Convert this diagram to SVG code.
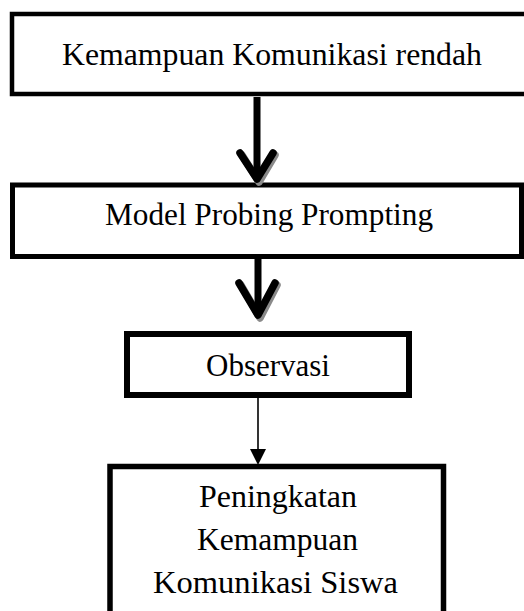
<svg xmlns="http://www.w3.org/2000/svg" width="524" height="611" viewBox="0 0 524 611">
  <defs>
    <style>
      .box { fill: #ffffff; stroke: #000000; }
      .lbl { font-family: "Liberation Serif", "Times New Roman", serif; font-size: 31px; fill: #000000; text-anchor: middle; }
      .thick { fill: none; stroke: #000000; stroke-width: 7.5; stroke-linecap: round; stroke-linejoin: round; }
      .shadow { fill: none; stroke: #8a8a8a; stroke-width: 7.5; stroke-linecap: round; stroke-linejoin: round; }
    </style>
  </defs>
  <rect width="524" height="611" fill="#ffffff"/>

  <g id="node-kemampuan-rendah">
    <rect class="box" x="12" y="14" width="516" height="80" stroke-width="4.5"/>
    <text class="lbl" x="272" y="65" textLength="420" lengthAdjust="spacingAndGlyphs">Kemampuan Komunikasi rendah</text>
  </g>

  <g id="node-model-probing">
    <rect class="box" x="12.5" y="185" width="509" height="71.5" stroke-width="5"/>
    <text class="lbl" x="269" y="225" textLength="328" lengthAdjust="spacingAndGlyphs">Model Probing Prompting</text>
  </g>

  <g id="node-observasi">
    <rect class="box" x="127" y="334" width="282" height="61" stroke-width="6"/>
    <text class="lbl" x="268" y="376" textLength="124" lengthAdjust="spacingAndGlyphs">Observasi</text>
  </g>

  <g id="node-peningkatan">
    <rect class="box" x="110" y="466.5" width="333.5" height="160" stroke-width="5.5"/>
    <text class="lbl" x="278" y="507" textLength="158" lengthAdjust="spacingAndGlyphs">Peningkatan</text>
    <text class="lbl" x="277.5" y="550" textLength="161" lengthAdjust="spacingAndGlyphs">Kemampuan</text>
    <text class="lbl" x="275.5" y="593" textLength="245" lengthAdjust="spacingAndGlyphs">Komunikasi Siswa</text>
  </g>

  <g id="connectors">
    <path class="shadow" d="M242,155 L259,182 L275,155"/>
    <line x1="257" y1="97" x2="257" y2="178" stroke="#000" stroke-width="7"/>
    <path class="thick" d="M240,153 L257,179 L273,153"/>

    <path class="shadow" d="M241,285 L260,318 L277,285"/>
    <line x1="258" y1="259" x2="258" y2="313" stroke="#000" stroke-width="7"/>
    <path class="thick" d="M239,283 L258,315 L275,283"/>

    <line x1="258" y1="398" x2="258" y2="452" stroke="#000" stroke-width="1.6"/>
    <polygon points="250,449 266,449 258,465" fill="#000"/>
  </g>
</svg>
